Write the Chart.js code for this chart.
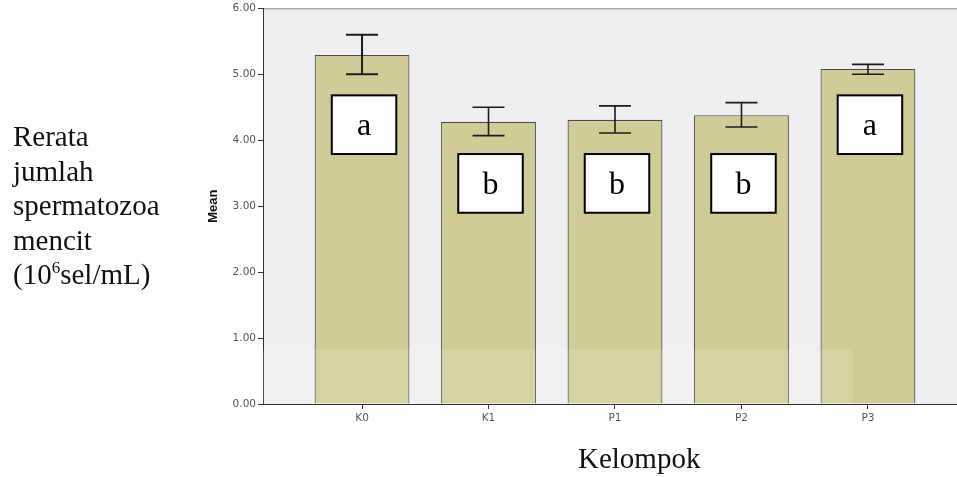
<!DOCTYPE html>
<html>
<head>
<meta charset="utf-8">
<script src="https://cdn.jsdelivr.net/npm/chart.js@4.4.1/dist/chart.umd.min.js"></script>
<style>
  html, body { margin: 0; padding: 0; background: #fff; }
  #wrap { position: relative; width: 957px; height: 477px; overflow: hidden; }
  #chart { position: absolute; left: 0; top: 0; }
  .doc { position: absolute; font-family: "Liberation Serif", "Times New Roman", serif;
         font-size: 29px; line-height: 34.5px; color: #111; white-space: nowrap; }
  .doc sup { font-size: 17px; vertical-align: 11px; line-height: 0; }
</style>
</head>
<body>
<div id="wrap">
  <canvas id="chart" width="957" height="477"></canvas>
  <div class="doc" style="left:13px; top:119px;">Rerata<br>jumlah<br>spermatozoa<br>mencit<br>(10<sup>6</sup>sel/mL)</div>
  <div class="doc" style="left:578px; top:441px;">Kelompok</div>
</div>
<script>
/* ---- data ---- */
const groups   = ["K0", "K1", "P1", "P2", "P3"];
const means    = [5.29, 4.28, 4.31, 4.38, 5.08];
const errLow   = [5.00, 4.07, 4.11, 4.20, 5.00];
const errHigh  = [5.60, 4.50, 4.52, 4.57, 5.15];
const letters  = ["a", "b", "b", "b", "a"];
const boxTop   = [4.68, 3.79, 3.79, 3.79, 4.68];
const boxBot   = [3.79, 2.90, 2.90, 2.90, 3.79];
const yTicks   = [0, 1, 2, 3, 4, 5, 6];

const tickFont = { family: "DejaVu Sans", size: 10.5 };

// grey plot panel + top frame line
const panelPlugin = {
  id: "panel",
  beforeDraw(chart) {
    const { ctx, chartArea: a } = chart;
    ctx.save();
    ctx.fillStyle = "#efeff1";
    ctx.fillRect(a.left, a.top, a.right - a.left, a.bottom - a.top);
    ctx.strokeStyle = "#8a8a8a";
    ctx.lineWidth = 1;
    ctx.beginPath();
    ctx.moveTo(a.left, a.top + 0.5);
    ctx.lineTo(a.right, a.top + 0.5);
    ctx.stroke();
    ctx.restore();
  }
};

// error bars and the significance letter boxes
const extrasPlugin = {
  id: "extras",
  afterDatasetsDraw(chart) {
    const { ctx, scales: { x, y } } = chart;
    const meta = chart.getDatasetMeta(0);
    ctx.save();

    // faint light band of the scanned page (lower part of panel)
    ctx.fillStyle = "rgba(255,255,255,0.12)";
    const bx0 = x.getPixelForValue(x.min), bx1 = x.getPixelForValue(3.88);
    const by0 = y.getPixelForValue(0.83), by1 = y.getPixelForValue(0);
    ctx.fillRect(bx0, by0, bx1 - bx0, by1 - by0);

    groups.forEach((g, i) => {
      const cx = x.getPixelForValue(i);
      const bw = meta.data[i].width;

      // error bar
      const yt = y.getPixelForValue(errHigh[i]);
      const yb = y.getPixelForValue(errLow[i]);
      const cap = 16;
      ctx.strokeStyle = "#1c1c1c";
      ctx.lineWidth = i === 0 ? 2 : 1.6;
      ctx.beginPath();
      ctx.moveTo(cx, yt); ctx.lineTo(cx, yb);
      ctx.moveTo(cx - cap, yt); ctx.lineTo(cx + cap, yt);
      ctx.moveTo(cx - cap, yb); ctx.lineTo(cx + cap, yb);
      ctx.stroke();

      // letter box
      const w = bw * 0.68;
      const bx = cx + 2 - w / 2;
      const by = y.getPixelForValue(boxTop[i]);
      const bh = y.getPixelForValue(boxBot[i]) - by;
      ctx.fillStyle = "#ffffff";
      ctx.fillRect(bx, by, w, bh);
      ctx.strokeStyle = "#000";
      ctx.lineWidth = 2;
      ctx.strokeRect(bx, by, w, bh);
      ctx.fillStyle = "#000";
      ctx.font = '32px "Liberation Serif", serif';
      ctx.textAlign = "center";
      ctx.textBaseline = "middle";
      ctx.fillText(letters[i], bx + w / 2, by + bh / 2 + 2);
    });
    ctx.restore();
  }
};

new Chart(document.getElementById("chart").getContext("2d"), {
  type: "bar",
  data: {
    datasets: [{
      data: means.map((v, i) => ({ x: i, y: v })),
      backgroundColor: "#d1cc96",
      borderColor: "#4c4c44",
      borderWidth: 1.2,
      categoryPercentage: 1,
      barPercentage: 0.75
    }]
  },
  options: {
    responsive: false,
    animation: false,
    layout: { padding: { left: 195, top: 7, right: 0, bottom: 0 } },
    plugins: { legend: { display: false }, tooltip: { enabled: false } },
    scales: {
      x: {
        type: "linear",
        min: -0.783,
        max: 4.704,
        offset: false,
        afterBuildTicks: (s) => { s.ticks = groups.map((g, i) => ({ value: i })); },
        afterFit: (s) => { s.height = 73; },
        ticks: {
          autoSkip: false,
          maxRotation: 0,
          padding: 3,
          color: "#555",
          font: tickFont,
          callback: (v) => groups[v]
        },
        grid: { offset: false, drawOnChartArea: false, drawTicks: true, tickLength: 5, color: "#333" },
        border: { display: true, color: "#333", width: 1 }
      },
      y: {
        min: 0,
        max: 6,
        afterBuildTicks: (s) => { s.ticks = yTicks.map(v => ({ value: v })); },
        afterFit: (s) => { s.width = 68; },
        ticks: {
          padding: 2,
          color: "#555",
          font: tickFont,
          callback: (v) => Number(v).toFixed(2)
        },
        grid: { drawOnChartArea: false, drawTicks: true, tickLength: 5, color: "#333" },
        border: { display: true, color: "#333", width: 1 },
        title: {
          display: true,
          text: "Mean",
          color: "#111",
          font: { family: "Liberation Sans", size: 13, weight: "bold" },
          padding: { top: 11, bottom: 0 }
        }
      }
    }
  },
  plugins: [panelPlugin, extrasPlugin]
});
</script>
</body>
</html>
